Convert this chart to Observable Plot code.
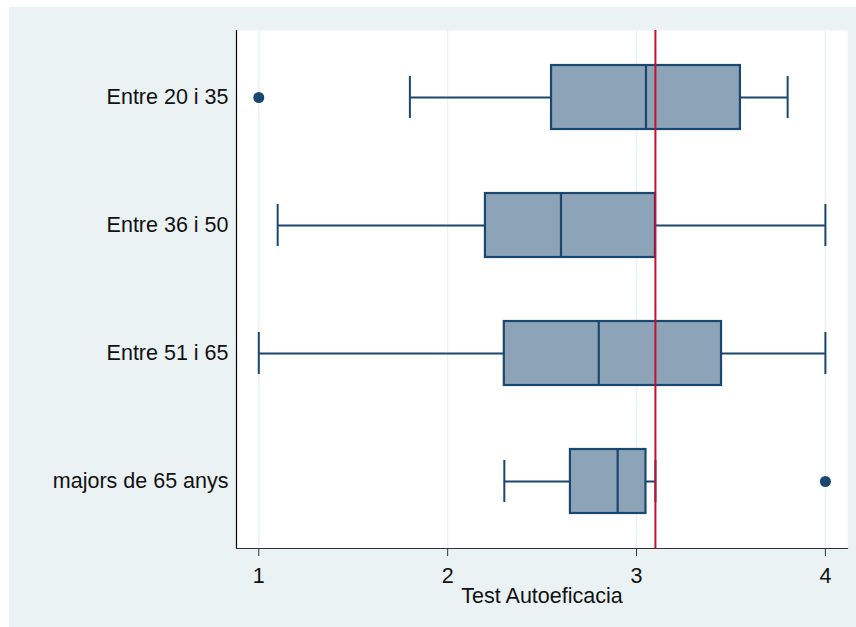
<!DOCTYPE html>
<html>
<head>
<meta charset="utf-8">
<script src="https://cdn.jsdelivr.net/npm/d3@7"></script>
<script src="https://cdn.jsdelivr.net/npm/@observablehq/plot@0.6"></script>
<style>
  html, body { margin: 0; padding: 0; background: #ffffff; }
  #wrap { position: relative; width: 856px; height: 627px; overflow: hidden; }
  #bg { position: absolute; left: 9px; top: 7px; right: 0; bottom: 0; background: #eaf2f3; }
  #chart { position: absolute; left: 0; top: 0; }
  #chart svg { background: transparent; }
</style>
</head>
<body>
<div id="wrap"><div id="bg"></div><div id="chart"></div></div>
<script>
// Age groups and their box-plot summaries of the self-efficacy score
const groups = ["Entre 20 i 35", "Entre 36 i 50", "Entre 51 i 65", "majors de 65 anys"];
const lowerWhisker = [1.8, 1.1, 1.0, 2.3];
const q1 = [2.55, 2.2, 2.3, 2.65];
const median = [3.05, 2.6, 2.8, 2.9];
const q3 = [3.55, 3.1, 3.45, 3.05];
const upperWhisker = [3.8, 4.0, 4.0, 3.1];

// Outside values
const outlierGroups = ["Entre 20 i 35", "majors de 65 anys"];
const outlierValues = [1.0, 4.0];

// Reference line
const referenceValue = 3.1;

const xTicks = [1, 2, 3, 4];
const xDomain = [0.882, 4.117];

const navy = "#1a476f";
const boxFill = "#8da3b7";

const boxes = groups.map((g, i) => ({
  group: g, lo: lowerWhisker[i], q1: q1[i], med: median[i], q3: q3[i], hi: upperWhisker[i]
}));
const outliers = outlierGroups.map((g, i) => ({group: g, value: outlierValues[i]}));

const chart = Plot.plot({
  width: 856,
  height: 627,
  marginLeft: 236,
  marginTop: 30,
  marginRight: 9,
  marginBottom: 79,
  style: {fontFamily: "'Liberation Sans', Arial, Helvetica, sans-serif", background: "transparent"},
  x: {domain: xDomain},
  y: {domain: groups, paddingInner: 0.5, paddingOuter: 0.273},
  marks: [
    Plot.frame({fill: "white", stroke: "none"}),
    Plot.gridX(xTicks, {stroke: "#eaf2f3", strokeOpacity: 1, strokeWidth: 1.5}),
    Plot.ruleX([xDomain[0]], {stroke: "#000000", strokeWidth: 1.2}),
    Plot.axisX({
      ticks: xTicks, tickFormat: d3.format("d"), tickSize: 8, tickPadding: 11,
      fontSize: 21.5, stroke: "#333", color: "#111",
      label: "Test Autoeficacia", labelAnchor: "center", labelArrow: "none", labelOffset: 54
    }),
    Plot.axisY({tickSize: 0, tickPadding: 8, fontSize: 21.5, color: "#111", label: null}),
    // whiskers
    Plot.ruleY(boxes, {y: "group", x1: "lo", x2: "q1", stroke: navy, strokeWidth: 2}),
    Plot.ruleY(boxes, {y: "group", x1: "q3", x2: "hi", stroke: navy, strokeWidth: 2}),
    Plot.tickX(boxes, {y: "group", x: "lo", stroke: navy, strokeWidth: 2, insetTop: 11, insetBottom: 11}),
    Plot.tickX(boxes, {y: "group", x: "hi", stroke: navy, strokeWidth: 2, insetTop: 11, insetBottom: 11}),
    // boxes and medians
    Plot.barX(boxes, {y: "group", x1: "q1", x2: "q3", fill: boxFill, stroke: navy, strokeWidth: 2.2}),
    Plot.tickX(boxes, {y: "group", x: "med", stroke: navy, strokeWidth: 2.2}),
    // reference line
    Plot.ruleX([referenceValue], {stroke: "#c4102f", strokeWidth: 2}),
    // outside values
    Plot.dot(outliers, {y: "group", x: "value", r: 5.5, fill: navy, stroke: "none"}),
    // bottom axis line
    Plot.frame({anchor: "bottom", stroke: "#333", strokeWidth: 1.2})
  ]
});
document.getElementById("chart").appendChild(chart);
</script>
</body>
</html>
